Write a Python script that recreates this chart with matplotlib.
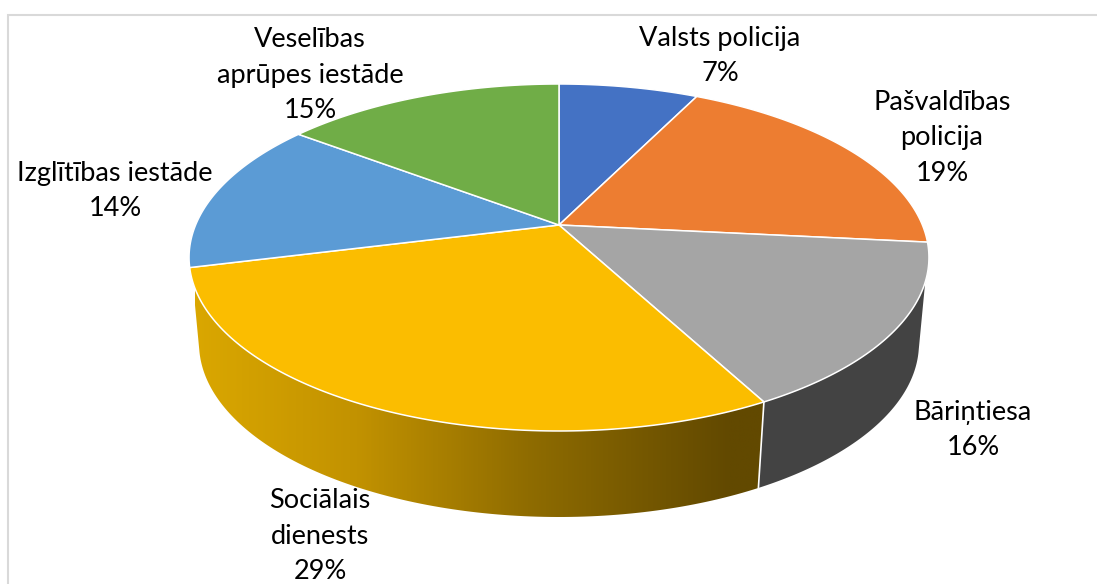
import numpy as np
import matplotlib
matplotlib.use("Agg")
import matplotlib.pyplot as plt
from matplotlib.colors import LinearSegmentedColormap
from matplotlib.patches import Polygon

plt.rcParams['font.family'] = ['Lato', 'DejaVu Sans']

# chart data, labels show these rounded
names = ['Valsts policija', 'Pašvaldības\npolicija', 'Bāriņtiesa',
         'Sociālais\ndienests', 'Izglītības iestāde', 'Veselības\naprūpes iestāde']
values = [7.3, 19.3, 15.6, 28.9, 14.2, 14.7]
colors = ['#4472C4', '#ED7D31', '#A5A5A5', '#FBBD00', '#5B9BD5', '#70AD47']

# where each label block sits, pixels
label_x = [720, 942, 973, 320, 115, 310]
label_y = [56, 138, 430, 536, 191, 75]

# perspective of the tilted disc, fitted on the picture
cx = 559
apex_y = 225
persp = 0.1873
tilt = -125.27
width = 363.4
depth = 86
bottom_scale = 0.973
# where the wall outline leaves the two rims, degrees from the top
sil_top = np.radians(108.7)
sil_bottom = np.radians(102.9)


def top_edge(theta, r=1.0):
    u = r * np.sin(theta)
    v = r * np.cos(theta)
    den = 1 + persp * v
    return cx + width * u / den, (apex_y + tilt * v) / den


def bottom_edge(theta):
    x, y = top_edge(theta)
    return cx + (x - cx) * bottom_scale, y + depth


def wall_outline(top_a, top_b, bot_a, bot_b):
    xt, yt = top_edge(np.linspace(top_a, top_b, 120))
    xb, yb = bottom_edge(np.linspace(bot_b, bot_a, 120))
    return np.c_[np.r_[xt, xb], np.r_[yt, yb]]


fig = plt.figure(figsize=(10.97, 5.84), dpi=100)
ax = fig.add_axes([0, 0, 1, 1])
ax.axis('off')

# chart frame, only left and top are in the crop
ax.plot([8, 8, 1097], [584, 15, 15], color='#D9D9D9', lw=1.5, solid_joinstyle='miter')

edges = 2 * np.pi * np.cumsum([0] + values) / sum(values)

# side walls, only bāriņtiesa and sociālais dienests can be seen
ax.add_patch(Polygon(wall_outline(sil_top, edges[3], sil_bottom, edges[3]), closed=True,
                     facecolor='#434343', edgecolor='none'))

wall = Polygon(wall_outline(edges[3], 2 * np.pi - sil_top, edges[3], 2 * np.pi - sil_bottom),
               closed=True, facecolor='none', edgecolor='none')
ax.add_patch(wall)
shade = LinearSegmentedColormap.from_list('wall', [
    (0.0, '#DAA700'), (0.28, '#C29200'), (0.58, '#8F6C00'), (0.93, '#624900'), (1.0, '#624900')])
grad = np.linspace(0, 1, 500).reshape(1, -1)
im = ax.imshow(grad, cmap=shade, extent=[195, 770, 520, 260], aspect='auto', zorder=1)
im.set_clip_path(wall)

# seam between the two walls
x0, y0 = top_edge(edges[3])
x1, y1 = bottom_edge(edges[3])
ax.plot([x0, x1], [y0, y1], color='white', lw=1.2, zorder=2)

# top face
for i in range(len(values)):
    t = np.linspace(edges[i], edges[i + 1], 120)
    x, y = top_edge(t)
    ax.fill(np.r_[cx, x], np.r_[apex_y, y], facecolor=colors[i], edgecolor='white',
            lw=1.1, zorder=3, joinstyle='round')

for name, v, lx, ly in zip(names, values, label_x, label_y):
    ax.text(lx, ly, f'{name}\n{round(v)}%', ha='center', va='center', fontsize=19.5,
            color='black', linespacing=1.52, zorder=5)

ax.set_xlim(0, 1097)
ax.set_ylim(584, 0)
fig.savefig('out.png', dpi=100)
